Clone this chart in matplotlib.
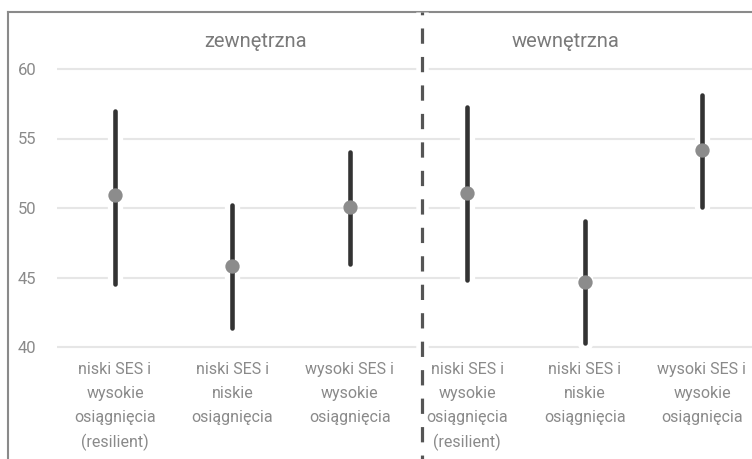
import matplotlib
matplotlib.use("Agg")
import matplotlib.pyplot as plt
import matplotlib.patheffects as pe
from matplotlib.lines import Line2D

# dane
categories = [
    "niski SES i\nwysokie\nosiągnięcia\n(resilient)",
    "niski SES i\nniskie\nosiągnięcia",
    "wysoki SES i\nwysokie\nosiągnięcia",
    "niski SES i\nwysokie\nosiągnięcia\n(resilient)",
    "niski SES i\nniskie\nosiągnięcia",
    "wysoki SES i\nwysokie\nosiągnięcia",
]
groups = ["zewnętrzna", "wewnętrzna"]
means = [50.9, 45.8, 50.1, 51.1, 44.7, 54.2]
lower = [44.5, 41.4, 46.0, 44.8, 40.3, 50.1]
upper = [57.0, 50.2, 54.0, 57.3, 49.1, 58.1]
yticks = [40, 45, 50, 55, 60]

plt.rcParams["font.family"] = ["Roboto", "DejaVu Sans"]
plt.rcParams["lines.scale_dashes"] = False

W, H = 752, 459
fig = plt.figure(figsize=(W / 100, H / 100), dpi=100)
fig.patch.set_facecolor("white")

# osie: 40 -> y=347px, 60 -> y=69px
ppu = (347 - 69) / 20
y_bot = 347 + ppu
y_top = 69 - ppu
ax = fig.add_axes([57 / W, (H - y_bot) / H, 1 - 57 / W, (y_bot - y_top) / H])
ax.set_ylim(39, 61)
ax.set_xlim(-0.494, 5.426)
for s in ax.spines.values():
    s.set_visible(False)

for v in yticks:
    ax.axhline(v, color="#e6e6e6", lw=1.5, zorder=0)

x = list(range(len(means)))
halo = [pe.Stroke(linewidth=11, foreground="white"), pe.Normal()]
ax.vlines(x, lower, upper, color="#333333", lw=3.3, zorder=2,
          path_effects=halo, capstyle="round")
ax.plot(x, means, "o", ms=10.3, color="#8c8c8c", mec="none", zorder=3)

ax.set_yticks(yticks)
ax.set_yticklabels([str(v) for v in yticks], color="#8a8a8a", fontsize=12)
ax.tick_params(axis="y", length=0, pad=15)
ax.set_xticks(x)
ax.set_xticklabels(categories, color="#8a8a8a", fontsize=11.5)
ax.tick_params(axis="x", length=0, pad=1)
for t in ax.get_xticklabels():
    t.set_linespacing(1.72)

# tytuły grup
ax.text(1.20, 61.95, groups[0], ha="center", va="center", fontsize=14.5,
        color="#7a7a7a", clip_on=False)
ax.text(3.84, 61.95, groups[1], ha="center", va="center", fontsize=14.5,
        color="#7a7a7a", clip_on=False)

# linia przerywana między grupami
xd = 422 / W
sep = Line2D([xd, xd], [(H - 12) / H, 0], transform=fig.transFigure,
             color="#555555", lw=2.3, linestyle=(9.0, (11, 9.5)),
             dash_capstyle="butt", zorder=5)
sep.set_path_effects([pe.Stroke(linewidth=9, foreground="white"), pe.Normal()])
fig.add_artist(sep)

# ramka (przycięty zrzut)
fig.add_artist(Line2D([8 / W, 1], [(H - 12) / H] * 2, transform=fig.transFigure,
                      color="#8a8a8a", lw=1.5))
fig.add_artist(Line2D([8 / W] * 2, [(H - 12) / H, 0], transform=fig.transFigure,
                      color="#8a8a8a", lw=1.5))

fig.savefig("out.png", dpi=100, facecolor="white")
